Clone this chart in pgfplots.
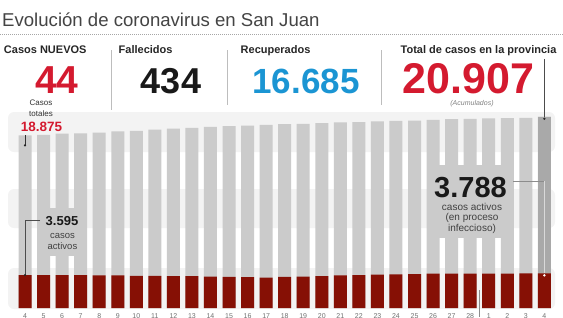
\documentclass[border=0pt]{standalone}
\usepackage{pgfplots}
\pgfplotsset{compat=1.18}
\usepackage{pgfplotstable}
\usepackage{fontspec}
\setmainfont{Liberation Sans}
\definecolor{bargray}{HTML}{CBCBCB}
\definecolor{lastgray}{HTML}{A9A9A9}
\definecolor{band}{HTML}{F3F3F3}
\definecolor{barred}{HTML}{861005}
\definecolor{txtred}{HTML}{D41A2F}
\definecolor{txtblue}{HTML}{1B95D3}
\definecolor{titlegray}{HTML}{444444}
\definecolor{seplight}{HTML}{BDBDBD}
\definecolor{labelgray}{HTML}{707070}

\pgfplotstableread{
x total active
0 18875 3595
1 18920 3590
2 19067 3600
3 19100 3585
4 19181 3560
5 19296 3555
6 19373 3520
7 19488 3510
8 19603 3480
9 19679 3475
10 19794 3440
11 19871 3400
12 19947 3365
13 20024 3325
14 20100 3400
15 20139 3440
16 20215 3480
17 20292 3555
18 20330 3595
19 20407 3635
20 20445 3670
21 20483 3710
22 20560 3750
23 20637 3750
24 20675 3745
25 20713 3750
26 20752 3755
27 20790 3790
28 20907 3788
}\datatable

\pgfplotstableread{
x total
28 20907
}\lasttable

\begin{document}
\begin{tikzpicture}[x=1pt,y=-1pt]
\useasboundingbox (0,0) rectangle (563,317);
\clip (0,0) rectangle (563,317);
% background bands
\fill[band, rounded corners=6pt] (8,112) rectangle (555,152);
\fill[band, rounded corners=6pt] (8,189) rectangle (555,228);
\fill[band, rounded corners=6pt] (8,268) rectangle (555,309);

\begin{axis}[
  at={(0pt,-308pt)}, anchor=south west,
  scale only axis, width=563pt, height=300pt,
  xmin=-1.348, xmax=29.004, ymin=0, ymax=32790,
  axis line style={draw=none},
  major tick length=0pt,
  ytick=\empty,
  xtick={0,...,28},
  xticklabels={4,5,6,7,8,9,10,11,12,13,14,15,16,17,18,19,20,21,22,23,24,25,26,27,28,1,2,3,4},
  xticklabel style={anchor=base, yshift=-10pt, font=\fontsize{7}{7}\selectfont, text=labelgray},
  clip=false,
  ybar, bar width=13pt,
]
\addplot[fill=bargray, draw=none, bar shift=0pt] table[x=x, y=total] {\datatable};
\addplot[fill=lastgray, draw=none, bar shift=0pt] table[x=x, y=total] {\lasttable};
\addplot[fill=barred, draw=none, bar shift=0pt] table[x=x, y=active] {\datatable};
\coordinate (t0) at (axis cs:0,18875);
\coordinate (a0) at (axis cs:0,3595);
\coordinate (t28) at (axis cs:28,20907);
\coordinate (a28) at (axis cs:28,3788);
\coordinate (sep) at (axis cs:24.5,0);
\end{axis}

% title and header
\node[anchor=base west, inner sep=0pt, text=titlegray, font=\fontsize{18.6}{18.6}\selectfont] at (2,26) {Evolución de coronavirus en San Juan};
\draw[gray!70, line width=0.6pt, dash pattern=on 0.6pt off 1.4pt] (0,34) -- (563,34);

\node[anchor=base west, inner sep=0pt, font=\fontsize{11}{11}\selectfont\bfseries, text=black!85] at (3.8,53.3) {Casos NUEVOS};
\node[anchor=base west, inner sep=0pt, font=\fontsize{11}{11}\selectfont\bfseries, text=black!85] at (118.5,53.3) {Fallecidos};
\node[anchor=base west, inner sep=0pt, font=\fontsize{11}{11}\selectfont\bfseries, text=black!85] at (240.5,53.3) {Recuperados};
\node[anchor=base west, inner sep=0pt, font=\fontsize{11}{11}\selectfont\bfseries, text=black!85] at (400.5,53.3) {Total de casos en la provincia};

\node[anchor=base, inner sep=0pt, font=\fontsize{39}{39}\selectfont\bfseries, text=txtred] at (56.7,93) {44};
\node[anchor=base, inner sep=0pt, font=\fontsize{36}{36}\selectfont\bfseries, text=black!90] at (171,93) {434};
\node[anchor=base, inner sep=0pt, font=\fontsize{35}{35}\selectfont\bfseries, text=txtblue] at (306,93) {16.685};
\node[anchor=base, inner sep=0pt, font=\fontsize{43}{43}\selectfont\bfseries, text=txtred] at (468.3,93) {20.907};
\node[anchor=base, inner sep=0pt, font=\fontsize{7}{7}\selectfont\itshape, text=gray] at (472,105) {(Acumulados)};

% separators
\draw[seplight, line width=0.7pt] (111,50) -- (111,110);
\draw[seplight, line width=0.7pt] (227,50) -- (227,104.5);
\draw[seplight, line width=0.7pt] (381.5,50) -- (381.5,104.5);

% total annotation (left)
\node[anchor=base, inner sep=0pt, font=\fontsize{8}{8}\selectfont, text=black!80] at (41,105.5) {Casos};
\node[anchor=base, inner sep=0pt, font=\fontsize{8}{8}\selectfont, text=black!80] at (41,116.5) {totales};
\node[anchor=base, inner sep=0pt, font=\fontsize{13.5}{13.5}\selectfont\bfseries, text=txtred] at (41.5,131) {18.875};
\draw[black!80, line width=0.5pt] (t0) -- ++(0pt,-10pt);
\fill[black!85] (t0) ++(0pt,-10pt) circle (1.2pt);

% right top line
\draw[black!70, line width=0.5pt] (t28 |- 0,59) -- (t28);
\fill[black!85] (t28) ++(0pt,-2pt) circle (1.3pt);

% active annotation (left)
\fill[bargray] (37,208) rectangle (87,256);
\node[anchor=base, inner sep=0pt, font=\fontsize{13}{13}\selectfont\bfseries, text=black!90] at (62,225) {3.595};
\node[anchor=base, inner sep=0pt, font=\fontsize{9.5}{9.5}\selectfont, text=black!75] at (62.5,238) {casos};
\node[anchor=base, inner sep=0pt, font=\fontsize{9.5}{9.5}\selectfont, text=black!75] at (62.5,249.5) {activos};
\draw[black!70, line width=0.5pt] (40,220) -- (a0 |- 0,220) -- (a0);
\fill[black!85] (a0) circle (1.2pt);

% active annotation (right)
\fill[bargray] (427,165) rectangle (514,238);
\node[anchor=base, inner sep=0pt, font=\fontsize{29}{29}\selectfont\bfseries, text=black!90] at (470.5,197) {3.788};
\node[anchor=base, inner sep=0pt, font=\fontsize{10}{10}\selectfont, text=black!75] at (472,210) {casos activos};
\node[anchor=base, inner sep=0pt, font=\fontsize{10}{10}\selectfont, text=black!75] at (472,220.5) {(en proceso};
\node[anchor=base, inner sep=0pt, font=\fontsize{10}{10}\selectfont, text=black!75] at (472,231) {infeccioso)};
\draw[black!45, line width=0.5pt] (513,181) -- (t28 |- 0,181);
\draw[white!85!black, line width=0.5pt] (t28 |- 0,181) -- (a28);
\fill[white] (a28) ++(0pt,-2pt) circle (1.3pt);

% month separator
\draw[black!45, line width=0.5pt] (sep |- 0,290) -- (sep |- 0,317);
\end{tikzpicture}
\end{document}
